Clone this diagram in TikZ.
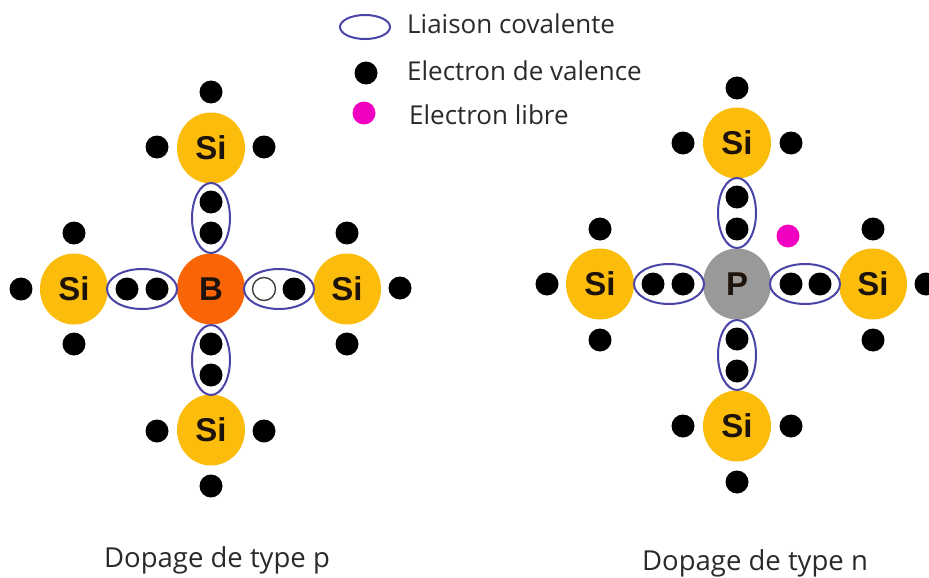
\documentclass[tikz,border=0pt]{standalone}
\usepackage{fontspec}
\setmainfont{Open Sans}
\newfontfamily\atomfont{Liberation Sans}
\usetikzlibrary{shapes.geometric}
\definecolor{siyellow}{HTML}{FBBC0B}
\definecolor{borange}{HTML}{F96407}
\definecolor{pgray}{HTML}{999999}
\definecolor{bondblue}{HTML}{4A44A8}
\definecolor{freemag}{HTML}{F000C0}
\definecolor{txt}{HTML}{2A2A2A}
\tikzset{
  x=1pt,y=-1pt,
  atom/.style={ellipse,draw=none,minimum width=68pt,minimum height=71pt,inner sep=0pt,font=\atomfont\bfseries\fontsize{33}{33}\selectfont,text=black!85!brown},
  elec/.style={circle,fill=black,draw=none,minimum size=23pt,inner sep=0pt},
  hole/.style={circle,fill=white,draw=black!75,line width=1.4pt,minimum size=23pt,inner sep=0pt},
  free/.style={circle,fill=freemag,draw=none,minimum size=23pt,inner sep=0pt},
  hbond/.style={ellipse,draw=bondblue,line width=2pt,minimum width=70pt,minimum height=40pt,inner sep=0pt},
  vbond/.style={ellipse,draw=bondblue,line width=2pt,minimum width=38pt,minimum height=70pt,inner sep=0pt},
  legbond/.style={ellipse,draw=bondblue,line width=2pt,minimum width=50pt,minimum height=24pt,inner sep=0pt},
  lab/.style={anchor=base west,inner sep=0pt,text=txt,font=\fontsize{26}{28}\selectfont},
  captext/.style={anchor=base,inner sep=0pt,text=txt,font=\fontsize{27.5}{30}\selectfont}
}
\begin{document}
\begin{tikzpicture}
\useasboundingbox (0,0) rectangle (929,578);
\clip (0,0) rectangle (929,578);
% legend
\node[legbond] (lb) at (365,27) {};
\node[elec] (le) at (366,73) {};
\node[free] (lf) at (364,113) {};
\node[lab] (lt1) at (407,34) {Liaison covalente};
\node[lab] (lt2) at (407,81) {Electron de valence};
\node[lab] (lt3) at (409,124) {Electron libre};
% p type
\node[atom,fill=borange] (B) at (211,289) {B};
\node[atom,fill=siyellow] (p1) at (74,289) {Si};
\node[atom,fill=siyellow] (p2) at (347,289) {Si};
\node[atom,fill=siyellow] (p3) at (211,148) {Si};
\node[atom,fill=siyellow] (p4) at (211,430) {Si};
\node[hbond] (pb1) at (142,289) {};
\node[hbond] (pb2) at (279,289) {};
\node[vbond] (pb3) at (211,218) {};
\node[vbond] (pb4) at (211,360) {};
\node[elec] (a1) at (127,289) {};
\node[elec] (a2) at (157,289) {};
\node[hole] (a3) at (264,289) {};
\node[elec] (a4) at (294,289) {};
\node[elec] (a5) at (211,202) {};
\node[elec] (a6) at (211,233) {};
\node[elec] (a7) at (211,344) {};
\node[elec] (a8) at (211,375) {};
\node[elec] (a9) at (74,233) {};
\node[elec] (a10) at (74,344) {};
\node[elec] (a11) at (21,289) {};
\node[elec] (a12) at (347,233) {};
\node[elec] (a13) at (347,344) {};
\node[elec] (a14) at (400,288) {};
\node[elec] (a15) at (157,147) {};
\node[elec] (a16) at (264,147) {};
\node[elec] (a17) at (211,92) {};
\node[elec] (a18) at (157,431) {};
\node[elec] (a19) at (264,431) {};
\node[elec] (a20) at (211,486) {};
% n type
\node[atom,fill=pgray] (P) at (737,284) {P};
\node[atom,fill=siyellow] (n1) at (600,284) {Si};
\node[atom,fill=siyellow] (n2) at (873,284) {Si};
\node[atom,fill=siyellow] (n3) at (737,143) {Si};
\node[atom,fill=siyellow] (n4) at (737,426) {Si};
\node[hbond] (nb1) at (669,284) {};
\node[hbond] (nb2) at (805,284) {};
\node[vbond] (nb3) at (737,213) {};
\node[vbond] (nb4) at (737,355) {};
\node[elec] (b1) at (653,284) {};
\node[elec] (b2) at (683,284) {};
\node[elec] (b3) at (791,284) {};
\node[elec] (b4) at (820,284) {};
\node[elec] (b5) at (737,197) {};
\node[elec] (b6) at (737,229) {};
\node[elec] (b7) at (737,339) {};
\node[elec] (b8) at (737,371) {};
\node[elec] (b9) at (600,229) {};
\node[elec] (b10) at (600,340) {};
\node[elec] (b11) at (547,284) {};
\node[elec] (b12) at (873,229) {};
\node[elec] (b13) at (873,340) {};
\node[elec] (b14) at (926,284) {};
\node[elec] (b15) at (683,143) {};
\node[elec] (b16) at (791,143) {};
\node[elec] (b17) at (737,88) {};
\node[elec] (b18) at (683,426) {};
\node[elec] (b19) at (791,426) {};
\node[elec] (b20) at (737,482) {};
\node[free] (b21) at (788,236) {};
% captions
\node[captext] (c1) at (217,567) {Dopage de type p};
\node[captext] (c2) at (755,570) {Dopage de type n};
\end{tikzpicture}
\end{document}
